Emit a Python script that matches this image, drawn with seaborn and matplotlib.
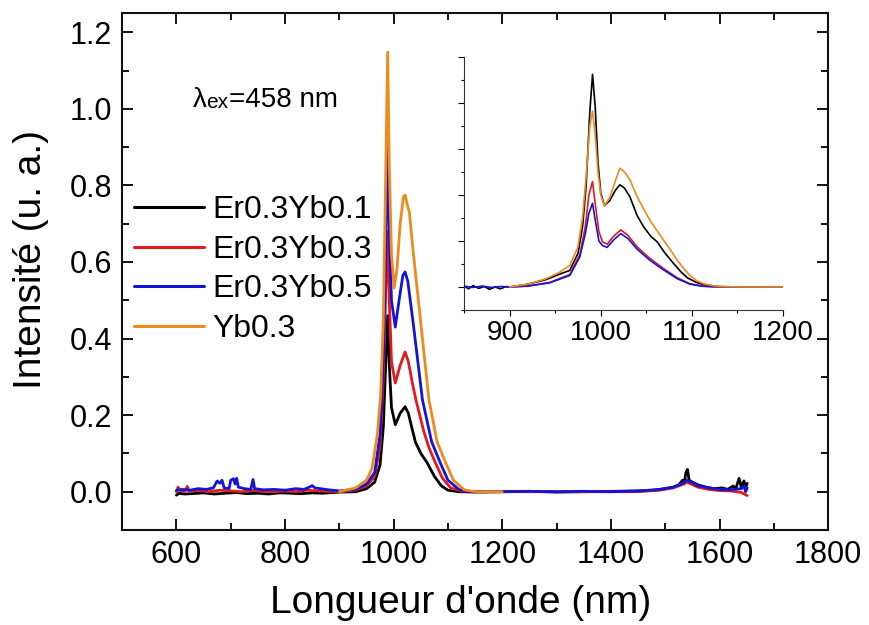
import matplotlib
matplotlib.use("Agg")
import matplotlib.pyplot as plt
from matplotlib.ticker import MultipleLocator
import seaborn as sns

# ---- main spectra (wavelength nm, intensity a.u.) ----
wl_er_yb01 = [600, 605, 615, 630, 650, 670, 690, 710, 730, 750, 770, 790, 810, 830, 850, 870, 890, 900,
              930, 950, 965, 975, 981, 985, 989, 992, 996, 1003, 1012, 1021, 1027, 1033, 1040, 1050, 1062,
              1075, 1088, 1100, 1120, 1150, 1200, 1250, 1300, 1350, 1400, 1450, 1480, 1500, 1515, 1525,
              1532, 1535, 1538, 1541, 1544, 1550, 1560, 1575, 1590, 1605, 1615, 1625, 1630, 1636, 1640,
              1645, 1648, 1651]
int_er_yb01 = [-0.009, -0.004, -0.006, -0.005, -0.003, -0.006, -0.004, -0.002, -0.005, -0.004, -0.006,
               -0.003, -0.004, -0.005, -0.003, -0.004, -0.002, -0.001,
               0.0, 0.008, 0.025, 0.07, 0.17, 0.32, 0.46, 0.33, 0.22, 0.175, 0.205, 0.222, 0.205, 0.17,
               0.13, 0.1, 0.075, 0.04, 0.015, 0.004, 0.0, -0.001, 0.0, 0.001, -0.001, 0.0, 0.001, 0.002,
               0.004, 0.008, 0.012, 0.018, 0.03, 0.02, 0.05, 0.058, 0.03, 0.025, 0.018, 0.012, 0.008,
               0.01, 0.006, 0.015, 0.008, 0.035, 0.012, 0.028, 0.01, 0.022]

wl_er_yb03 = [600, 603, 607, 615, 620, 623, 640, 660, 680, 700, 720, 740, 760, 780, 800, 820, 840, 860,
              880, 900, 930, 950, 965, 975, 981, 985, 989, 992, 996, 1003, 1012, 1021, 1027, 1035, 1041,
              1055, 1065, 1077, 1090, 1105, 1125, 1150, 1200, 1300, 1400, 1450, 1490, 1515, 1530, 1540,
              1548, 1560, 1580, 1600, 1620, 1640, 1648, 1651]
int_er_yb03 = [0.0, 0.012, 0.003, 0.0, 0.014, 0.002, 0.003, 0.0, 0.004, 0.002, 0.0, 0.003, 0.001, 0.0,
               0.002, 0.0, 0.004, 0.002, 0.001, 0.0, 0.004, 0.015, 0.04, 0.12, 0.3, 0.5, 0.68, 0.5, 0.34,
               0.284, 0.33, 0.365, 0.34, 0.28, 0.24, 0.16, 0.115, 0.075, 0.035, 0.01, 0.002, 0.0, 0.0,
               0.0, 0.0, 0.0, 0.004, 0.01, 0.018, 0.025, 0.02, 0.012, 0.006, 0.003, 0.002, -0.002,
               -0.008, -0.01]

wl_er_yb05 = [600, 610, 625, 640, 655, 668, 675, 680, 684, 688, 697, 700, 705, 708, 711, 714, 725, 737,
              741, 744, 760, 780, 800, 820, 835, 845, 850, 855, 865, 880, 895, 900, 930, 950, 965, 975,
              981, 985, 989, 992, 996, 1003, 1010, 1017, 1021, 1026, 1036, 1053, 1070, 1086, 1100, 1120,
              1140, 1200, 1250, 1300, 1350, 1400, 1450, 1490, 1515, 1530, 1540, 1548, 1560, 1580, 1600,
              1620, 1640, 1645, 1648, 1651]
int_er_yb05 = [0.003, 0.006, 0.004, 0.008, 0.006, 0.01, 0.028, 0.022, 0.03, 0.01, 0.008, 0.03, 0.034,
               0.02, 0.035, 0.012, 0.008, 0.006, 0.032, 0.008, 0.005, 0.006, 0.004, 0.008, 0.006, 0.012,
               0.016, 0.01, 0.008, 0.005, 0.003, 0.002, 0.006, 0.02, 0.05, 0.15, 0.35, 0.6, 0.905, 0.68,
               0.5, 0.43, 0.5, 0.565, 0.574, 0.55, 0.44, 0.24, 0.13, 0.075, 0.03, 0.006, 0.0, 0.0, 0.001,
               0.0, 0.001, 0.0, 0.002, 0.006, 0.012, 0.02, 0.03, 0.025, 0.016, 0.01, 0.006, 0.005, 0.008,
               0.015, 0.0, 0.01]

wl_yb03 = [900, 930, 950, 960, 970, 976, 981, 985, 989, 992, 996, 1001, 1006, 1012, 1018, 1021, 1025,
           1029, 1035, 1050, 1065, 1080, 1096, 1110, 1130, 1150, 1200]
int_yb03 = [0.0, 0.01, 0.03, 0.06, 0.15, 0.25, 0.45, 0.8, 1.148, 0.85, 0.62, 0.532, 0.58, 0.7, 0.77,
            0.775, 0.75, 0.73, 0.64, 0.44, 0.24, 0.13, 0.075, 0.03, 0.005, 0.0, 0.0]

# ---- inset spectra (normalised, arbitrary units) ----
wl_in_er_yb01 = [850, 855, 860, 866, 872, 878, 884, 890, 896, 900, 920, 940, 955, 966, 975, 980, 984,
                 988, 991, 994, 997, 1000, 1004, 1010, 1016, 1021, 1026, 1032, 1040, 1047, 1055, 1062,
                 1070, 1080, 1088, 1095, 1105, 1115, 1130, 1150, 1200]
int_in_er_yb01 = [0.02, -0.04, 0.03, -0.03, 0.01, -0.05, 0.0, -0.04, 0.01, 0.0, 0.06, 0.16, 0.28, 0.36,
                  0.73, 1.3, 2.2, 3.8, 4.62, 3.9, 2.7, 2.05, 1.77, 1.88, 2.1, 2.22, 2.15, 1.96, 1.55,
                  1.31, 1.1, 0.98, 0.75, 0.51, 0.33, 0.2, 0.1, 0.04, 0.01, 0.0, 0.0]

wl_in_er_yb03 = [900, 920, 944, 966, 977, 983, 987, 991, 994, 998, 1002, 1007, 1014, 1022, 1030, 1040,
                 1054, 1069, 1084, 1098, 1112, 1130, 1200]
int_in_er_yb03 = [0.0, 0.02, 0.1, 0.27, 0.7, 1.3, 2.0, 2.29, 1.8, 1.2, 0.98, 0.93, 1.1, 1.24, 1.12, 0.87,
                  0.62, 0.4, 0.2, 0.07, 0.02, 0.0, 0.0]

wl_in_er_yb05 = [850, 860, 870, 880, 890, 900, 920, 944, 966, 977, 983, 987, 991, 994, 998, 1002, 1007,
                 1014, 1022, 1030, 1040, 1054, 1069, 1084, 1098, 1112, 1130, 1200]
int_in_er_yb05 = [0.02, -0.01, 0.02, -0.01, 0.01, 0.0, 0.02, 0.09, 0.25, 0.65, 1.15, 1.6, 1.82, 1.45,
                  1.0, 0.9, 0.86, 1.02, 1.16, 1.05, 0.82, 0.58, 0.37, 0.18, 0.06, 0.015, 0.0, 0.0]

wl_in_yb03 = [900, 920, 940, 955, 966, 975, 980, 984, 988, 991, 994, 997, 1000, 1004, 1010, 1016, 1021,
              1025, 1028, 1032, 1040, 1047, 1054, 1065, 1075, 1084, 1092, 1098, 1105, 1113, 1128, 1150,
              1200]
int_in_yb03 = [0.0, 0.06, 0.18, 0.32, 0.47, 0.87, 1.5, 2.4, 3.5, 3.82, 3.3, 2.5, 2.0, 1.76, 1.95, 2.3,
               2.58, 2.52, 2.45, 2.33, 1.96, 1.7, 1.45, 1.13, 0.85, 0.58, 0.38, 0.25, 0.14, 0.07, 0.01,
               0.0, 0.0]

labels = ["Er0.3Yb0.1", "Er0.3Yb0.3", "Er0.3Yb0.5", "Yb0.3"]
colors = ["#000000", "#e3191c", "#1414d8", "#ee8a1e"]

sns.set_style("ticks")
plt.rcParams["font.family"] = ["Liberation Sans", "DejaVu Sans"]
plt.rcParams.update({"text.color": "black", "axes.labelcolor": "black",
                     "xtick.color": "black", "ytick.color": "black"})

fig = plt.figure(figsize=(8.69, 6.25), dpi=100)
ax = fig.add_axes([0.1405, 0.152, 0.8125, 0.827])

main_sets = [(wl_er_yb01, int_er_yb01), (wl_er_yb03, int_er_yb03),
             (wl_er_yb05, int_er_yb05), (wl_yb03, int_yb03)]
for (x, y), lab, c in zip(main_sets, labels, colors):
    sns.lineplot(x=x, y=y, ax=ax, color=c, lw=2.0, label=lab, sort=False)

ax.set_xlim(500, 1800)
ax.set_ylim(-0.1, 1.25)
ax.xaxis.set_major_locator(MultipleLocator(200))
ax.xaxis.set_minor_locator(MultipleLocator(100))
ax.yaxis.set_major_locator(MultipleLocator(0.2))
ax.yaxis.set_minor_locator(MultipleLocator(0.1))
ax.set_xticks([600, 800, 1000, 1200, 1400, 1600, 1800])
ax.yaxis.set_major_formatter(plt.FuncFormatter(lambda v, p: f"{v:.1f}"))
ax.tick_params(which="both", direction="in", top=True, right=True, width=1.3, labelsize=22, pad=7)
ax.tick_params(which="major", length=8)
ax.tick_params(which="minor", length=5)
for s in ax.spines.values():
    s.set_linewidth(1.5)
    s.set_color("#111111")
ax.set_xlabel("Longueur d'onde (nm)", fontsize=28)
ax.set_ylabel("Intensité (u. a.)", fontsize=28)
ax.xaxis.set_label_coords(0.479, -0.106)
ax.yaxis.set_label_coords(-0.104, 0.524)

leg = ax.legend(loc="upper left", bbox_to_anchor=(-0.01, 0.685), frameon=False, fontsize=23,
                handlelength=2.2, handletextpad=0.25, labelspacing=0.3, borderaxespad=0.2)
for h in leg.get_lines():
    h.set_linewidth(2.2)

t1 = ax.text(630, 1.004, "λ", fontsize=20, va="baseline")
t2 = ax.annotate("ex", xy=(1, 0), xycoords=t1, fontsize=15, va="bottom", xytext=(0, 1),
                 textcoords="offset points")
ax.annotate("=458 nm", xy=(1, 0), xycoords=t2, fontsize=20, va="bottom", xytext=(0, -1),
            textcoords="offset points")

# ---- inset ----
axin = fig.add_axes([0.534, 0.504, 0.367, 0.405])
inset_sets = [(wl_in_er_yb01, int_in_er_yb01), (wl_in_er_yb03, int_in_er_yb03),
              (wl_in_er_yb05, int_in_er_yb05), (wl_in_yb03, int_in_yb03)]
for (x, y), c in zip(inset_sets, colors):
    sns.lineplot(x=x, y=y, ax=axin, color=c, lw=1.2, sort=False)
axin.set_xlim(850, 1200)
axin.set_ylim(-0.5, 5.0)
axin.xaxis.set_major_locator(MultipleLocator(100))
axin.xaxis.set_minor_locator(MultipleLocator(50))
axin.yaxis.set_major_locator(MultipleLocator(1))
axin.yaxis.set_minor_locator(MultipleLocator(0.5))
axin.set_yticklabels([])
axin.tick_params(which="both", direction="out", width=0.8, labelsize=20, pad=3)
axin.tick_params(which="major", length=4)
axin.tick_params(which="minor", length=2.5)
axin.spines["top"].set_visible(False)
axin.spines["right"].set_visible(False)
for s in ["left", "bottom"]:
    axin.spines[s].set_linewidth(0.8)
    axin.spines[s].set_color("#333333")
axin.patch.set_alpha(0)

fig.savefig("out.png", dpi=100)
